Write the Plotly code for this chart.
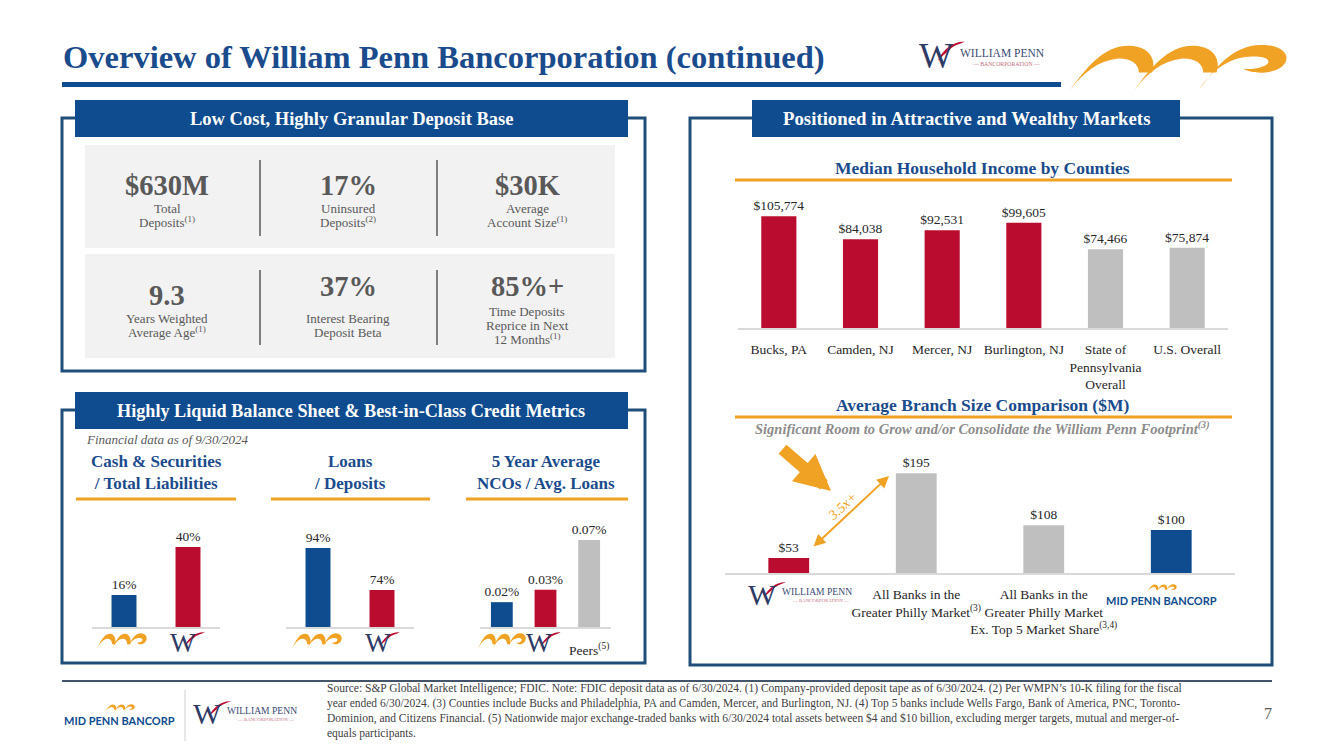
import plotly.graph_objects as go

# ---------------- data ----------------
income_cats = ["Bucks, PA", "Camden, NJ", "Mercer, NJ", "Burlington, NJ",
               "State of<br>Pennsylvania<br>Overall", "U.S. Overall"]
income_vals = [105774, 84038, 92531, 99605, 74466, 75874]

branch_cats = ["William Penn", "All Banks in the Greater Philly Market",
               "All Banks in the Greater Philly Market Ex. Top 5 Market Share", "Mid Penn"]
branch_ticks = ["", "All Banks in the<br>Greater Philly Market<sup>(3)</sup>",
                "All Banks in the<br>Greater Philly Market<br>Ex. Top 5 Market Share<sup>(3,4)</sup>", ""]
branch_vals = [53, 195, 108, 100]

bank_cats = ["Mid Penn", "William Penn"]
cash_vals = [16, 40]
loans_vals = [94, 74]
nco_cats = ["Mid Penn", "William Penn", "Peers"]
nco_ticks = ["", "", "Peers<sup>(5)</sup>"]
nco_vals = [0.02, 0.03, 0.07]

kpi_big = ["$630M", "17%", "$30K", "9.3", "37%", "85%+"]
kpi_sub = [["Total", "Deposits<sup>(1)</sup>"], ["Uninsured", "Deposits<sup>(2)</sup>"],
           ["Average", "Account Size<sup>(1)</sup>"], ["Years Weighted", "Average Age<sup>(1)</sup>"],
           ["Interest Bearing", "Deposit Beta"], ["Time Deposits", "Reprice in Next", "12 Months<sup>(1)</sup>"]]

source_text = ("Source: S&P Global Market Intelligence; FDIC. Note: FDIC deposit data as of 6/30/2024. (1) Company-provided deposit tape as of 6/30/2024. (2) Per WMPN’s 10-K filing for the fiscal<br>"
               "year ended 6/30/2024. (3) Counties include Bucks and Philadelphia, PA and Camden, Mercer, and Burlington, NJ. (4) Top 5 banks include Wells Fargo, Bank of America, PNC, Toronto-<br>"
               "Dominion, and Citizens Financial. (5) Nationwide major exchange-traded banks with 6/30/2024 total assets between $4 and $10 billion, excluding merger targets, mutual and merger-of-<br>"
               "equals participants.")

# ---------------- style ----------------
PAGE_W, PAGE_H = 1333, 749
OFF = 8  # default page body margin
W, H = PAGE_W - 2 * OFF, PAGE_H - 2 * OFF
SERIF = "Liberation Serif"
BLUE = "#0E4C8F"
TITLE_BLUE = "#1A4B8C"
RED = "#BA0C2F"
GREY = "#BFBFBF"
ORANGE = "#F0A224"
DARK = "#262626"
KPI = "#595959"
LOGO_W = "#2E3B66"


def X(x):
    return (x - OFF) / W


def Y(y):
    return 1 - (y - OFF) / H


annotations = []
shapes = []


def txt(x, y, text, size, color=DARK, bold=False, italic=False, xanchor="center",
        yanchor="middle", align="center", family=SERIF, angle=0):
    if bold:
        text = "<b>" + text + "</b>"
    if italic:
        text = "<i>" + text + "</i>"
    annotations.append(dict(x=X(x), y=Y(y), xref="paper", yref="paper", text=text,
                            showarrow=False, xanchor=xanchor, yanchor=yanchor, align=align,
                            textangle=angle,
                            font=dict(family=family, size=size, color=color)))


def rect(x0, y0, x1, y1, fill=None, line=None, lw=0):
    shapes.append(dict(type="rect", xref="paper", yref="paper", x0=X(x0), x1=X(x1),
                       y0=Y(y1), y1=Y(y0), fillcolor=fill if fill else "rgba(0,0,0,0)",
                       line=dict(color=line if line else "rgba(0,0,0,0)", width=lw), layer="below"))


def hline(x0, x1, y, color, w):
    shapes.append(dict(type="line", xref="paper", yref="paper", x0=X(x0), x1=X(x1),
                       y0=Y(y), y1=Y(y), line=dict(color=color, width=w)))


def vline(x, y0, y1, color, w):
    shapes.append(dict(type="line", xref="paper", yref="paper", x0=X(x), x1=X(x),
                       y0=Y(y0), y1=Y(y1), line=dict(color=color, width=w)))


def path(pts_cmds, fill=None, line=None, lw=0):
    s = ""
    for item in pts_cmds:
        if isinstance(item, str):
            s += item + " "
        else:
            s += "%.5f,%.5f " % (X(item[0]), Y(item[1]))
    shapes.append(dict(type="path", xref="paper", yref="paper", path=s.strip(),
                       fillcolor=fill if fill else "rgba(0,0,0,0)",
                       line=dict(color=line if line else "rgba(0,0,0,0)", width=lw)))


def m_logo(x0, y0, w, h):
    # stylised orange swooshes (Mid Penn mark)
    def P(u, v):
        return (x0 + u * w, y0 + v * h)
    for a in (0.0, 0.29):
        path(["M", P(a, 1.0),
              "C", P(a + 0.07, 0.55), P(a + 0.15, 0.02), P(a + 0.27, 0.04),
              "C", P(a + 0.36, 0.06), P(a + 0.39, 0.35), P(a + 0.37, 0.62),
              "L", P(a + 0.31, 0.62),
              "C", P(a + 0.31, 0.42), P(a + 0.27, 0.3), P(a + 0.21, 0.32),
              "C", P(a + 0.13, 0.36), P(a + 0.06, 0.62), P(a, 1.0), "Z"], fill=ORANGE)
    a = 0.58
    path(["M", P(a, 1.0),
          "C", P(a + 0.07, 0.55), P(a + 0.15, 0.02), P(a + 0.28, 0.02),
          "C", P(a + 0.43, 0.02), P(a + 0.43, 0.55), P(a + 0.3, 0.62),
          "C", P(a + 0.26, 0.64), P(a + 0.22, 0.6), P(a + 0.2, 0.54),
          "C", P(a + 0.27, 0.56), P(a + 0.33, 0.45), P(a + 0.31, 0.34),
          "C", P(a + 0.29, 0.24), P(a + 0.2, 0.26), P(a + 0.15, 0.36),
          "C", P(a + 0.09, 0.48), P(a + 0.04, 0.7), P(a, 1.0), "Z"], fill=ORANGE)


def quill(x0, y0, w, h):
    def P(u, v):
        return (x0 + u * w, y0 + v * h)
    path(["M", P(0, 1), "C", P(0.2, 0.4), P(0.6, 0.0), P(1, 0.05),
          "C", P(0.75, 0.2), P(0.55, 0.25), P(0.45, 0.45),
          "C", P(0.3, 0.6), P(0.15, 0.8), P(0, 1), "Z"], fill=RED)


def w_logo(x, y, size, words=False):
    txt(x, y, "W", size, color=LOGO_W, family=SERIF)
    quill(x + size * 0.05, y - size * 0.42, size * 0.75, size * 0.55)
    if words:
        txt(x + size * 0.6, y - size * 0.08, "WILLIAM PENN", size * 0.32, color="#3B4A72",
            xanchor="left")
        txt(x + size * 0.6 + size * 1.35, y + size * 0.22, "— BANCORPORATION —", size * 0.16,
            color="#C07080")


def mid_penn_logo(cx, cy, size):
    m_logo(cx - size * 0.3, cy - size * 1.45, size * 2.8, size * 0.85)
    txt(cx + 1.0 * size, cy, "MID PENN BANCORP", size, color=BLUE, bold=True, family="Lato")


# ---------------- title ----------------
txt(61, 57, "Overview of William Penn Bancorporation (continued)", 32.5, color=TITLE_BLUE,
    bold=True, xanchor="left")
rect(62, 82, 1061, 87, fill=BLUE)
w_logo(936, 56, 36, words=True)
m_logo(1070, 44, 222, 46)

# ---------------- panels ----------------
PANEL = "#1F4E79"
rect(62, 118, 645, 371, line=PANEL, lw=3)
rect(62, 410, 645, 663, line=PANEL, lw=3)
rect(690, 118, 1272, 665, line=PANEL, lw=3)
rect(75, 100, 628, 137, fill=BLUE)
rect(75, 392, 628, 429, fill=BLUE)
rect(752, 100, 1180, 137, fill=BLUE)
txt(351, 119, "Low Cost, Highly Granular Deposit Base", 18.5, color="white", bold=True)
txt(351, 411, "Highly Liquid Balance Sheet & Best-in-Class Credit Metrics", 18.2, color="white", bold=True)
txt(966, 119, "Positioned in Attractive and Wealthy Markets", 18.8, color="white", bold=True)

# ---------------- KPI tiles ----------------
rect(85, 145, 615, 248, fill="#F2F2F2")
rect(85, 254, 615, 358, fill="#F2F2F2")
for xs in (260, 437):
    vline(xs, 160, 236, "#7F7F7F", 2)
    vline(xs, 270, 345, "#7F7F7F", 2)
cols = [167, 348, 527]
big_y = [185, 185, 185, 295, 286, 286]
sub_y0 = [208, 208, 208, 318, 318, 311]
for i in range(6):
    cx = cols[i % 3]
    txt(cx, big_y[i], kpi_big[i], 28.5, color=KPI, bold=True)
    for j, line in enumerate(kpi_sub[i]):
        txt(cx, sub_y0[i] + 14 * j, line, 13, color=KPI)

# ---------------- left-bottom chart headers ----------------
txt(84, 440, "Financial data as of 9/30/2024", 13, color=KPI, italic=True, xanchor="left")
txt(156, 473, "Cash & Securities<br>/ Total Liabilities", 17, color=TITLE_BLUE, bold=True)
txt(350, 473, "Loans<br>/ Deposits", 17, color=TITLE_BLUE, bold=True)
txt(546, 473, "5 Year Average<br>NCOs / Avg. Loans", 17, color=TITLE_BLUE, bold=True)
hline(76, 236, 499, ORANGE, 3)
hline(271, 430, 499, ORANGE, 3)
hline(466, 628, 499, ORANGE, 3)

# logos under small bars
for mx, wx in ((123, 187), (318, 382)):
    m_logo(mx - 27, 633, 52, 18)
    w_logo(wx - 4, 643, 27)
m_logo(477, 633, 50, 18)
w_logo(539, 643, 27)

# ---------------- right panel headers ----------------
txt(982, 168, "Median Household Income by Counties", 17.5, color=TITLE_BLUE, bold=True)
hline(735, 1232, 180, ORANGE, 3)
txt(982, 405, "Average Branch Size Comparison ($M)", 17.5, color=TITLE_BLUE, bold=True)
hline(735, 1232, 417, ORANGE, 3)
txt(982, 428, "Significant Room to Grow and/or Consolidate the William Penn Footprint<sup>(3)</sup>",
    14.5, color="#8C8C8C", bold=True, italic=True)

# logos under branch chart
w_logo(762, 594, 30, words=True)
mid_penn_logo(1150, 600, 11)

# arrows
annotations.append(dict(x=X(831), y=Y(491), xref="paper", yref="paper", ax=-50, ay=-43,
                        showarrow=True, arrowhead=2, arrowsize=0.6, arrowwidth=12,
                        arrowcolor=ORANGE, text=""))
annotations.append(dict(x=X(889), y=Y(476), xref="paper", yref="paper", ax=-77, ay=72,
                        showarrow=True, arrowhead=2, startarrowhead=2, arrowside="end+start",
                        arrowsize=1.2, startarrowsize=1.2, arrowwidth=2, arrowcolor=ORANGE,
                        text=""))
txt(842, 506, "3.5x+", 14, color=ORANGE, italic=True, angle=-43)

# ---------------- footer ----------------
hline(62, 1272, 681, "#44546A", 2)
vline(185, 690, 742, "#D0D0D0", 1)
mid_penn_logo(108, 720, 11)
w_logo(207, 713, 30, words=True)
txt(325, 711, source_text, 11.5, color="#404040", xanchor="left", align="left")
txt(1268, 713, "7", 16, color="#595959")

# ---------------- bar charts ----------------
fig = go.Figure()

tick_font = dict(family=SERIF, size=13.5, color=DARK)
lab_font = dict(family=SERIF, size=13.5, color=DARK)


def add_bars(idx, cats, vals, colors, template, xd, yd, yrange, width, ticktext=None,
             standoff=6):
    xa = "x" if idx == 1 else "x%d" % idx
    ya = "y" if idx == 1 else "y%d" % idx
    fig.add_trace(go.Bar(x=cats, y=vals, width=width,
                         marker=dict(color=colors, line=dict(width=0)),
                         texttemplate=template, textposition="outside", textfont=lab_font,
                         constraintext="none", cliponaxis=True, xaxis=xa, yaxis=ya,
                         showlegend=False, hoverinfo="skip"))
    xkey = "xaxis" if idx == 1 else "xaxis%d" % idx
    ykey = "yaxis" if idx == 1 else "yaxis%d" % idx
    fig.layout[xkey] = dict(domain=[X(xd[0]), X(xd[1])], anchor=ya, showline=True,
                            linecolor="#D9D9D9", linewidth=1.5, showgrid=False, zeroline=False,
                            ticks="", tickfont=tick_font, tickangle=0,
                            tickmode="array", tickvals=cats,
                            ticktext=ticktext if ticktext else cats,
                            ticklabelstandoff=standoff)
    fig.layout[ykey] = dict(domain=[Y(yd[0]), Y(yd[1])], anchor=xa, range=yrange,
                            visible=False, showgrid=False, zeroline=False)


# Median household income
add_bars(1, income_cats, income_vals, [RED, RED, RED, RED, GREY, GREY], "$%{y:,.0f}",
         (738, 1228), (328, 190), [0, 130500], 0.43, standoff=8)
# Branch size (value axis in the original does not start at zero)
add_bars(2, branch_cats, branch_vals, [RED, GREY, GREY, BLUE], "$%{y:.0f}",
         (725, 1235), (573, 450), [28, 233.7], 0.32, ticktext=branch_ticks, standoff=8)
# Cash & securities
add_bars(3, bank_cats, cash_vals, [BLUE, RED], "%{y:.0f}%",
         (92, 220), (627, 507), [0, 60], 0.39, ticktext=["", ""])
# Loans / deposits
add_bars(4, bank_cats, loans_vals, [BLUE, RED], "%{y:.0f}%",
         (286, 414), (627, 507), [56.4, 113.5], 0.39, ticktext=["", ""])
# NCOs
add_bars(5, nco_cats, nco_vals, [BLUE, RED, GREY], "%{y:.2f}%",
         (480, 611), (627, 507), [0, 0.0966], 0.5, ticktext=nco_ticks, standoff=10)

fig.update_layout(width=W, height=H, margin=dict(l=0, r=0, t=0, b=0),
                  paper_bgcolor="white", plot_bgcolor="rgba(0,0,0,0)",
                  annotations=annotations, shapes=shapes,
                  font=dict(family=SERIF))
fig.write_html("out.html")
